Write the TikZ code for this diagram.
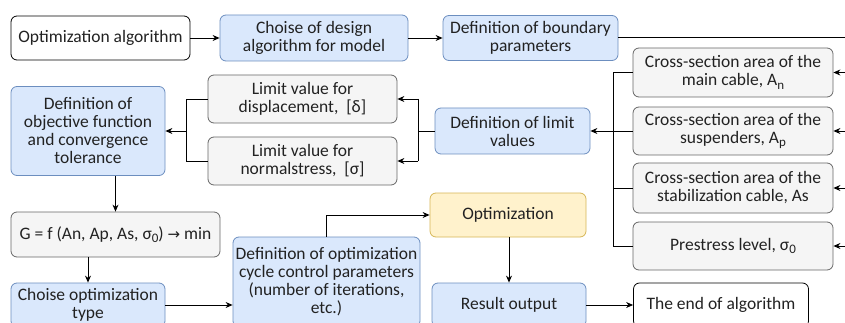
\documentclass[tikz,border=0pt]{standalone}
\usepackage{fontspec}
\setmainfont{Carlito}
\newfontfamily\symf{DejaVu Sans}
\usetikzlibrary{arrows.meta}
\definecolor{bfill}{HTML}{DAE8FC}
\definecolor{bdraw}{HTML}{6C8EBF}
\definecolor{gfill}{HTML}{F5F5F5}
\definecolor{gdraw}{HTML}{666666}
\definecolor{yfill}{HTML}{FFF2CC}
\definecolor{ydraw}{HTML}{D6B656}
\definecolor{txt}{HTML}{222222}
\newcommand\subx[1]{\raisebox{-0.4ex}{\fontsize{13}{13}\selectfont #1}}
\tikzset{
  box/.style={rounded corners=6pt, align=center, inner sep=0pt, line width=0.8pt,
    text=txt, font=\fontsize{17.5}{18}\selectfont},
  wbox/.style={box, draw=black, fill=white},
  bbox/.style={box, draw=bdraw, fill=bfill},
  gbox/.style={box, draw=gdraw, fill=gfill},
  ybox/.style={box, draw=ydraw, fill=yfill},
  ln/.style={draw=black, line width=0.9pt},
  arr/.style={ln, -{Stealth[length=7pt,width=6pt]}},
  sz/.style 2 args={minimum width=#1pt, minimum height=#2pt}
}
\begin{document}
\begin{tikzpicture}[x=1pt,y=-1pt]
\useasboundingbox (0,0) rectangle (845,323);
\clip (0,0) rectangle (845,323);
% top row
\node[wbox, sz={179}{44}] (oa) at (100.5,38) {Optimization algorithm};
\node[bbox, sz={188}{46}] (cd) at (314,38) {Choise of design\\algorithm for model};
\node[bbox, sz={175}{45}] (bp) at (530.5,38) {Definition of boundary\\parameters};
% right column
\node[gbox, sz={200}{49}] (c1) at (733,72.5) {Cross-section area of the\\main cable, A\subx{n}};
\node[gbox, sz={200}{48}] (c2) at (733,131) {Cross-section area of the\\suspenders, A\subx{p}};
\node[gbox, sz={200}{50}] (c3) at (733,188) {Cross-section area of the\\stabilization cable, As};
\node[gbox, sz={200}{48}] (c4) at (733,246) {Prestress level, σ\subx{0}};
% limit values
\node[bbox, sz={155}{46}] (lv) at (512.5,131) {Definition of limit\\values};
\node[gbox, sz={189}{48}] (l1) at (302.5,99) {Limit value for\\displacement,~ [δ]};
\node[gbox, sz={189}{48}] (l2) at (302.5,161) {Limit value for\\normalstress,~ [σ]};
\node[bbox, sz={154}{89}] (ob) at (88,131) {Definition of\\objective function\\and convergence\\tolerance};
% lower part
\node[gbox, sz={209}{45}] (g) at (115.5,234.5) {G = f (An, Ap, As, σ\subx{0}) {\symf\fontsize{15}{15}\selectfont →} min};
\node[bbox, sz={154}{44}] (ct) at (88,305) {Choise optimization\\type};
\node[bbox, sz={187}{90}] (cy) at (326.5,282) {Definition of optimization\\cycle control parameters\\(number of iterations,\\etc.)};
\node[ybox, sz={156}{44}] (op) at (508,215) {Optimization};
\node[bbox, sz={154}{44}] (rs) at (509,305) {Result output};
\node[wbox, sz={175}{44}] (en) at (721,305) {The end of algorithm};
% free ends
\coordinate (re0) at (850,37);
\coordinate (re1) at (850,72.5);
\coordinate (re2) at (850,131);
\coordinate (re3) at (850,188);
\coordinate (re4) at (850,246);
\coordinate (busR) at (613,0);
\coordinate (busM) at (418,0);
\coordinate (busL) at (186,0);
% connectors
\draw[arr] (oa) -- (cd);
\draw[arr] (cd) -- (bp);
\draw[ln] (bp.east |- re0) -- (re0);
\draw[arr] (re1) -- (c1.east);
\draw[arr] (re2) -- (c2.east);
\draw[arr] (re3) -- (c3.east);
\draw[arr] (re4) -- (c4.east);
\draw[ln] (c1.west) -- (c1.west -| busR) -- (c4.west -| busR) -- (c4.west);
\draw[ln] (c3.west) -- (c3.west -| busR);
\draw[arr] (c2.west) -- (lv.east);
\draw[ln] (lv.west) -- (lv.west -| busM);
\draw[ln] (l1.east -| busM) -- (l2.east -| busM);
\draw[arr] (l1.east -| busM) -- (l1.east);
\draw[arr] (l2.east -| busM) -- (l2.east);
\draw[ln] (l1.west) -- (l1.west -| busL) -- (l2.west -| busL) -- (l2.west);
\draw[arr] (ob.east -| busL) -- (ob.east);
\draw[arr] (g.north |- ob.south) -- (g.north);
\draw[arr] (ct.north |- g.south) -- (ct.north);
\draw[arr] (ct.east) -- (ct.east -| cy.west);
\draw[arr] (cy.north) |- (op.west);
\draw[arr] (op.south -| rs.north) -- (rs.north);
\draw[arr] (rs.east) -- (en.west);
\end{tikzpicture}
\end{document}
